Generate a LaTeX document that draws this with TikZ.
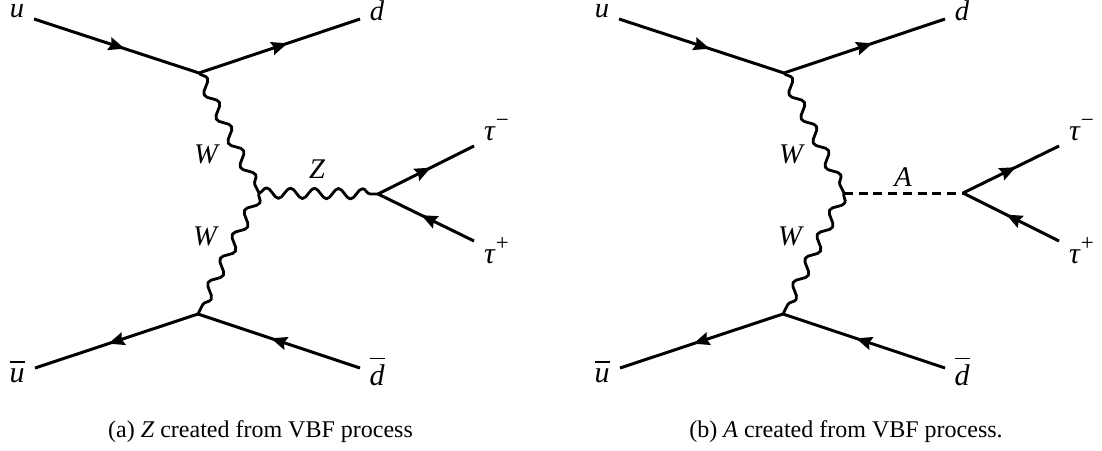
\documentclass[tikz,border=0pt]{standalone}
\usepackage{fontspec}
\setmainfont{Liberation Serif}
\usetikzlibrary{arrows.meta,decorations.pathmorphing,decorations.markings}
\newcommand{\lab}[1]{\fontsize{28.5}{28.5}\selectfont\itshape #1}
\newcommand{\taulab}[1]{\fontsize{30}{30}\selectfont\itshape τ\hspace{1pt}\raisebox{13pt}{\fontsize{23}{23}\selectfont\upshape #1}}
\newsavebox{\barbox}
\newcommand{\barred}[2]{\sbox{\barbox}{\fontsize{30}{30}\selectfont\itshape #1}\rlap{\raisebox{#2}{\rule{\wd\barbox}{1.3pt}}}\usebox{\barbox}}
\tikzset{
  fermion/.style={line width=3pt,postaction={decorate},decoration={markings,
    mark=at position 0.55 with {\arrow{Stealth[length=16pt,width=13pt,inset=2pt]}}}},
  boson/.style={line width=2.8pt,line join=round,decorate,decoration={snake,segment length=27pt,amplitude=5.2pt}},
  bosonz/.style={line width=2.8pt,line join=round,decorate,decoration={snake,segment length=24pt,amplitude=5.2pt}},
  scalar/.style={line width=3pt,dash pattern=on 9pt off 5.7pt},
  lbl/.style={inner sep=0pt,anchor=base},
  captext/.style={inner sep=0pt,anchor=base,font=\fontsize{24}{24}\selectfont}
}
\begin{document}
\begin{tikzpicture}[x=1pt,y=-1pt]
\useasboundingbox (0,0) rectangle (1102,450);
% left
\coordinate (ua) at (34,19); \coordinate (da) at (360,19);
\coordinate (va) at (199,73); \coordinate (ma) at (259,193);
\coordinate (ba) at (198,314); \coordinate (za) at (378,194);
\coordinate (tma) at (474,146); \coordinate (tpa) at (474,241);
\coordinate (uba) at (35,368); \coordinate (dba) at (360,368);
\draw[fermion] (ua) -- (va);
\draw[fermion] (va) -- (da);
\draw[boson] (va) -- (ma);
\draw[boson] (ma) -- (ba);
\draw[bosonz] (ma) -- (za);
\draw[fermion] (za) -- (tma);
\draw[fermion] (tpa) -- (za);
\draw[fermion] (ba) -- (uba);
\draw[fermion] (dba) -- (ba);
\node[lbl] (lua) at (17,17) {\lab{u}};
\node[lbl] (lda) at (377,20.5) {\lab{d}};
\node[lbl] (lw1a) at (206,163) {\lab{W}};
\node[lbl] (lw2a) at (205,245) {\lab{W}};
\node[lbl] (lza) at (317,178) {\lab{Z}};
\node[lbl,anchor=base west] (ltma) at (484,140) {\taulab{−}};
\node[lbl,anchor=base west] (ltpa) at (484,263) {\taulab{+}};
\node[lbl] (luba) at (17,382) {\barred{u}{19.5pt}};
\node[lbl] (ldba) at (377,385) {\barred{d}{26pt}};
\node[captext] (capa) at (260.5,437) {(a) \textit{Z} created from VBF process};
% right
\coordinate (ub) at (619,19); \coordinate (db) at (945,19);
\coordinate (vb) at (784,73); \coordinate (mb) at (844,193);
\coordinate (bb) at (783,314); \coordinate (zb) at (963,193);
\coordinate (tmb) at (1059,146); \coordinate (tpb) at (1059,241);
\coordinate (ubb) at (620,368); \coordinate (dbb) at (945,368);
\draw[fermion] (ub) -- (vb);
\draw[fermion] (vb) -- (db);
\draw[boson] (vb) -- (mb);
\draw[boson] (mb) -- (bb);
\draw[scalar] (mb) -- (zb);
\draw[fermion] (zb) -- (tmb);
\draw[fermion] (tpb) -- (zb);
\draw[fermion] (bb) -- (ubb);
\draw[fermion] (dbb) -- (bb);
\node[lbl] (lub) at (602,17) {\lab{u}};
\node[lbl] (ldb) at (962,20.5) {\lab{d}};
\node[lbl] (lw1b) at (791,163) {\lab{W}};
\node[lbl] (lw2b) at (790,245) {\lab{W}};
\node[lbl] (lzb) at (903,186) {\lab{A}};
\node[lbl,anchor=base west] (ltmb) at (1069,140) {\taulab{−}};
\node[lbl,anchor=base west] (ltpb) at (1069,263) {\taulab{+}};
\node[lbl] (lubb) at (602,382) {\barred{u}{19.5pt}};
\node[lbl] (ldbb) at (962,385) {\barred{d}{26pt}};
\node[captext] (capb) at (846,437) {(b) \textit{A} created from VBF process.};
\end{tikzpicture}
\end{document}
